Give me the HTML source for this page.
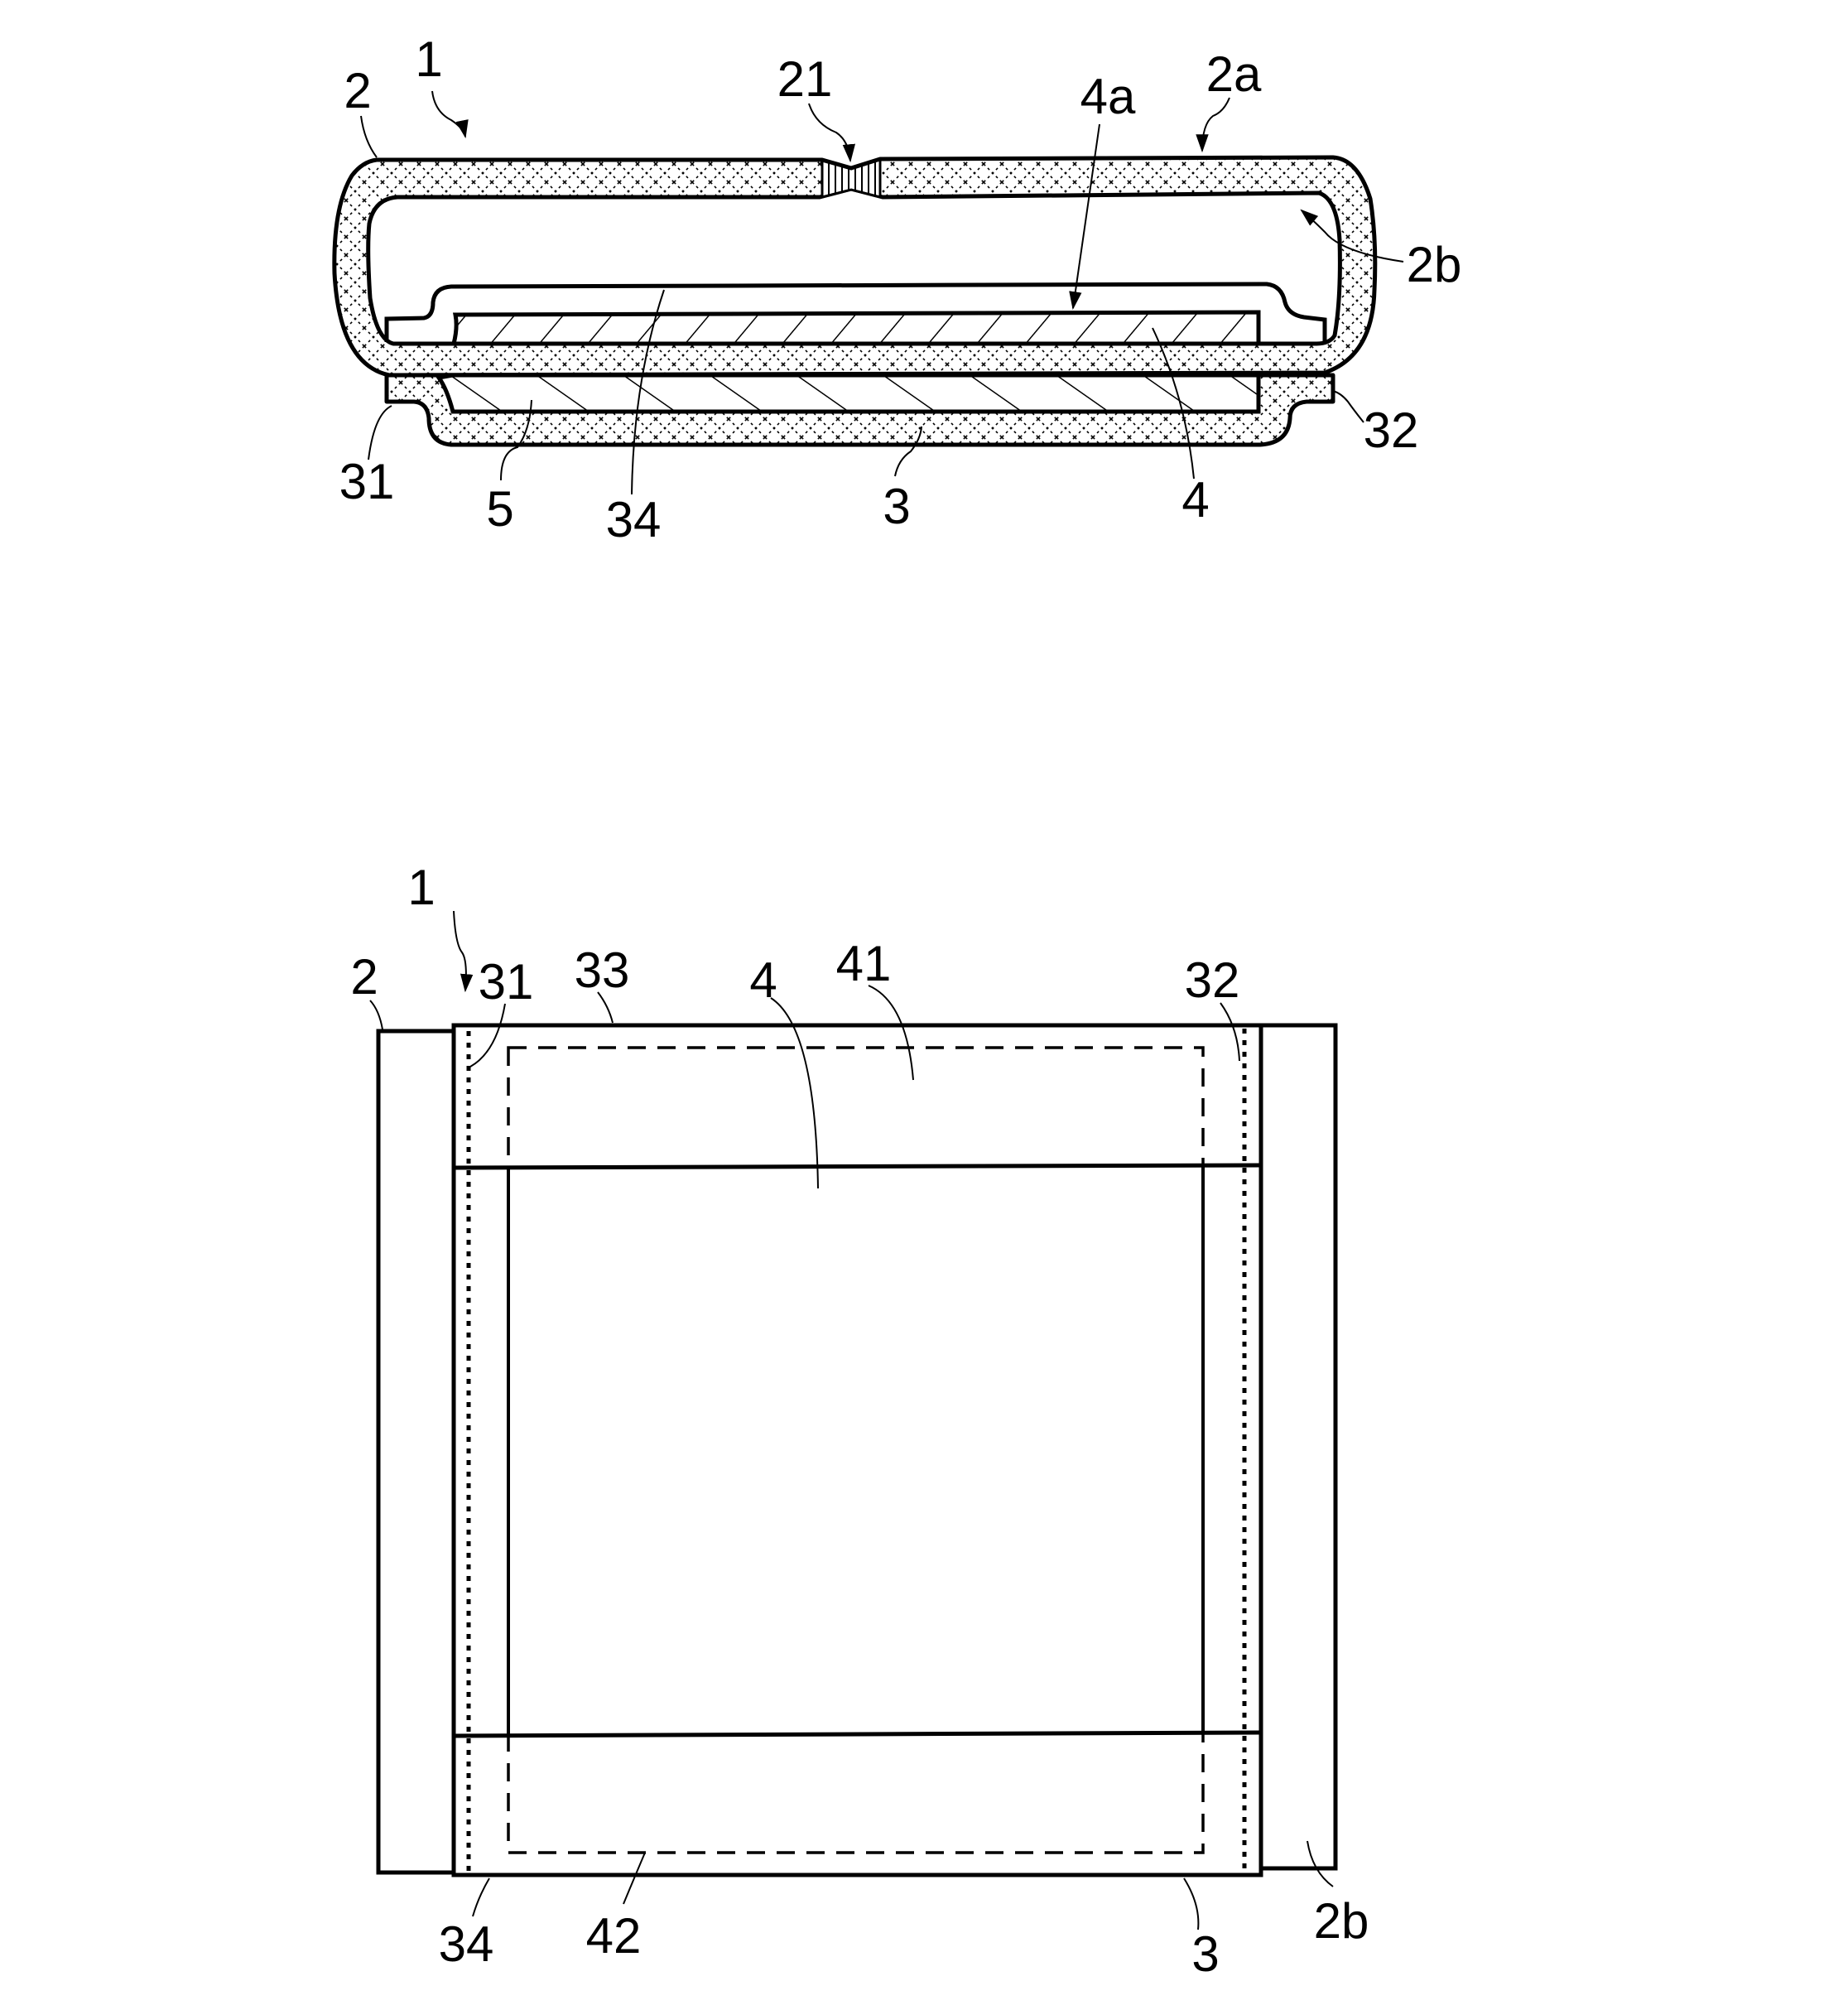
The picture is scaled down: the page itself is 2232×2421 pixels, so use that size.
<!DOCTYPE html>
<html><head><meta charset="utf-8"><style>
html,body{margin:0;padding:0;background:#fff;}
svg{display:block;}
text{font-family:"Liberation Sans",sans-serif;font-size:60px;fill:#000;}
</style></head><body>
<svg width="2232" height="2421" viewBox="0 0 2232 2421" xmlns="http://www.w3.org/2000/svg">
<defs>
<pattern id="x" width="22" height="22" patternUnits="userSpaceOnUse">
<rect width="22" height="22" fill="#fff"/>
<path d="M0 0L22 22M22 0L0 22" stroke="#000" stroke-width="1.6" stroke-dasharray="3 4"/>
</pattern>
<pattern id="h1" width="45" height="45" patternUnits="userSpaceOnUse" patternTransform="rotate(40)">
<rect width="45" height="45" fill="#fff"/><path d="M0 0V45" stroke="#000" stroke-width="3"/>
</pattern>
<pattern id="h2" width="60" height="60" patternUnits="userSpaceOnUse" patternTransform="rotate(-55)">
<rect width="60" height="60" fill="#fff"/><path d="M0 0V60" stroke="#000" stroke-width="3"/>
</pattern>
<pattern id="v" width="8" height="8" patternUnits="userSpaceOnUse">
<rect width="8" height="8" fill="#fff"/><path d="M0 0V8" stroke="#000" stroke-width="4"/>
</pattern>
<marker id="ab" viewBox="0 0 10 10" refX="9" refY="5" markerWidth="22" markerHeight="22" orient="auto" markerUnits="userSpaceOnUse">
<path d="M0 1.5L10 5L0 8.5Z"/></marker>
</defs>

<!-- ===== TOP FIGURE ===== -->
<path d="M467 453 L1610 453 L1610 485 L1578 485 Q1558 487 1558 505 Q1556 535 1522 537 L545 537 Q518 535 518 505 Q516 486 500 485 L467 485 Z" fill="url(#x)" stroke="#000" stroke-width="5" stroke-linejoin="round"/>
<path d="M547 453 L1520 453 L1520 497 L547 497 Q540 470 530 456 Z" fill="url(#h2)" stroke="#000" stroke-width="5"/>
<path fill-rule="evenodd" fill="url(#x)" stroke="#000" stroke-width="5" stroke-linejoin="round"
d="M455 193 L993 193 L1028 203 L1063 192 L1610 190 Q1640 192 1655 240 Q1663 290 1660 350 Q1658 430 1600 450 L470 453 Q410 440 404 330 Q402 250 425 212 Q438 195 455 193 Z
M480 238 L990 238 L1028 228 L1066 238 L1593 233 Q1615 240 1618 290 Q1620 360 1612 405 Q1606 415 1590 415 L475 415 Q455 410 447 360 Q443 300 446 270 Q452 240 480 238 Z"/>
<path d="M993 194 L1028 204 L1063 193 L1063 238 L1028 229 L993 238 Z" fill="url(#v)" stroke="#000" stroke-width="3"/>
<path d="M550 380 L1520 377 L1520 415 L548 415 Q553 395 550 380 Z" fill="url(#h1)" stroke="#000" stroke-width="5"/>
<path d="M467 413 L467 385 L512 384 Q523 382 523 365 Q525 347 545 346 L1530 343 Q1548 345 1552 365 Q1556 380 1575 383 L1600 386 L1600 412" fill="none" stroke="#000" stroke-width="5"/>

<g fill="none" stroke="#000" stroke-width="2">
<path d="M436 140 Q440 170 455 190"/>
<path d="M522 110 Q525 135 545 145 Q560 155 562 165" marker-end="url(#ab)"/>
<path d="M977 125 Q985 150 1010 160 Q1025 170 1027 194" marker-end="url(#ab)"/>
<path d="M1328 150 L1296 372" marker-end="url(#ab)"/>
<path d="M1485 118 Q1478 135 1465 140 Q1452 150 1452 182" marker-end="url(#ab)"/>
<path d="M1695 316 Q1620 305 1600 280 Q1585 265 1572 254" marker-end="url(#ab)"/>
<path d="M445 555 Q452 500 473 490"/>
<path d="M605 580 Q605 545 625 540 Q640 520 642 483"/>
<path d="M763 597 Q765 460 802 350"/>
<path d="M1081 575 Q1085 555 1100 545 Q1112 530 1113 515"/>
<path d="M1442 578 Q1432 480 1392 396"/>
<path d="M1647 510 Q1635 495 1628 485 Q1620 475 1610 472"/>
</g>

<text x="432" y="130" text-anchor="middle">2</text>
<text x="518" y="92" text-anchor="middle">1</text>
<text x="972" y="116" text-anchor="middle">21</text>
<text x="1338" y="137" text-anchor="middle">4a</text>
<text x="1490" y="110" text-anchor="middle">2a</text>
<text x="1732" y="340" text-anchor="middle">2b</text>
<text x="443" y="602" text-anchor="middle">31</text>
<text x="604" y="635" text-anchor="middle">5</text>
<text x="765" y="648" text-anchor="middle">34</text>
<text x="1083" y="632" text-anchor="middle">3</text>
<text x="1444" y="624" text-anchor="middle">4</text>
<text x="1680" y="540" text-anchor="middle">32</text>

<!-- ===== BOTTOM FIGURE ===== -->
<g fill="none" stroke="#000" stroke-width="5">
<rect x="457" y="1245" width="91" height="1016"/>
<rect x="1523" y="1238" width="90" height="1018"/>
<rect x="548" y="1238" width="975" height="1026"/>
<line x1="548" y1="1410" x2="1523" y2="1407"/>
<line x1="548" y1="2096" x2="1523" y2="2092"/>
<line x1="614" y1="1410" x2="614" y2="2096" stroke-width="4"/>
<line x1="1453" y1="1407" x2="1453" y2="2092" stroke-width="4"/>
</g>
<g fill="none" stroke="#000" stroke-width="3.5">
<path d="M614 1265 L1453 1265 L1453 2237 L614 2237 Z" stroke-dasharray="22 14"/>
<line x1="566" y1="1245" x2="566" y2="2262" stroke-dasharray="6 8" stroke-width="5"/>
<line x1="1503" y1="1242" x2="1503" y2="2260" stroke-dasharray="6 8" stroke-width="5"/>
</g>
<g fill="none" stroke="#000" stroke-width="2">
<path d="M447 1208 Q458 1220 462 1243"/>
<path d="M610 1212 Q600 1270 568 1288"/>
<path d="M722 1198 Q735 1215 740 1235"/>
<path d="M931 1205 Q985 1240 988 1435"/>
<path d="M1049 1190 Q1095 1210 1103 1304"/>
<path d="M1474 1211 Q1495 1240 1497 1281"/>
<path d="M571 2314 Q578 2290 591 2268"/>
<path d="M753 2299 Q765 2270 779 2237"/>
<path d="M1447 2330 Q1450 2300 1430 2268"/>
<path d="M1610 2278 Q1585 2260 1579 2223"/>
<path d="M548 1100 Q550 1140 558 1150 Q565 1160 562 1196" marker-end="url(#ab)"/>
</g>
<text x="509" y="1092" text-anchor="middle">1</text>
<text x="440" y="1200" text-anchor="middle">2</text>
<text x="611" y="1206" text-anchor="middle">31</text>
<text x="727" y="1192" text-anchor="middle">33</text>
<text x="922" y="1204" text-anchor="middle">4</text>
<text x="1043" y="1184" text-anchor="middle">41</text>
<text x="1464" y="1204" text-anchor="middle">32</text>
<text x="563" y="2368" text-anchor="middle">34</text>
<text x="741" y="2358" text-anchor="middle">42</text>
<text x="1456" y="2380" text-anchor="middle">3</text>
<text x="1620" y="2340" text-anchor="middle">2b</text>
</svg>
</body></html>
